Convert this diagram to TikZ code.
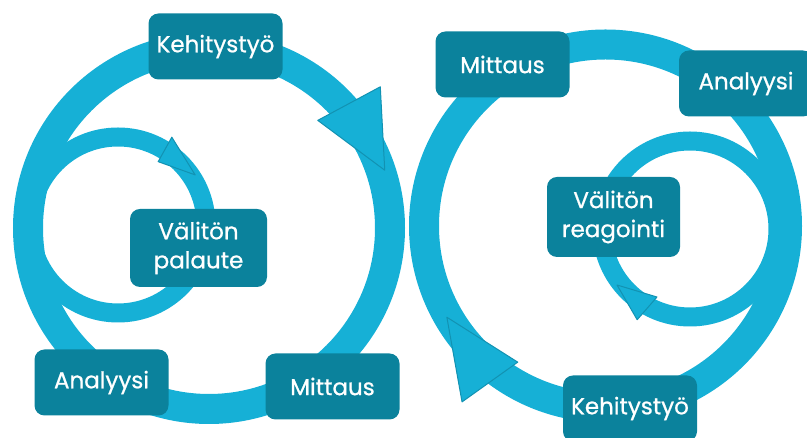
\documentclass[tikz,border=0pt]{standalone}
\usepackage{fontspec}
\newfontfamily\boxfont{Poppins}[FakeBold=0.8]
\usetikzlibrary{calc}
\definecolor{ringcyan}{RGB}{22,176,214}
\definecolor{headedge}{RGB}{18,146,178}
\definecolor{boxteal}{RGB}{11,130,156}
\begin{document}
\begin{tikzpicture}[x=1pt,y=1pt,
    bigring/.style={draw=ringcyan, line width=30pt},
    smallring/.style={draw=ringcyan, line width=19pt},
    head/.style={fill=ringcyan, draw=headedge, line width=1pt, line join=round},
    box/.style={fill=boxteal, rounded corners=10pt, text=white, align=center,
        minimum width=134pt, minimum height=66pt, inner sep=0pt,
        font=\boxfont\fontsize{23}{29}\selectfont}]
    \useasboundingbox (0,0) rectangle (807,438);

    % Centres of the loops
    \coordinate (bigL) at (209,210);
    \coordinate (smallL) at (118,213);
    \coordinate (bigR) at (605.5,212);
    \coordinate (smallR) at (690,209);

    % Draw the loops
    \draw[bigring] (bigL) circle (181);
    \draw[smallring] (smallL) circle (88);
    \draw[bigring] (bigR) circle (181.5);
    \draw[smallring] (smallR) circle (88);

    % Arrowheads, all clockwise
    \filldraw[head] ($(bigL)+(18.2:185)$) -- ($(bigL)+(44.7:153)$) -- ($(bigL)+(39.5:222)$) -- cycle;
    \filldraw[head] ($(smallL)+(33:92)$) -- ($(smallL)+(57.6:75)$) -- ($(smallL)+(58.5:103)$) -- cycle;
    \filldraw[head] ($(bigR)+(209.9:183)$) -- ($(bigR)+(237.2:162)$) -- ($(bigR)+(230.8:227)$) -- cycle;
    \filldraw[head] ($(smallR)+(217.5:92)$) -- ($(smallR)+(244.1:75.6)$) -- ($(smallR)+(239.8:105)$) -- cycle;

    % Left cycle
    \node[box] (kehL) at (215.5,391.5) {Kehitystyö};
    \node[box] (anaL) at (101.5,55.5) {Analyysi};
    \node[box] (mitL) at (332.5,51.5) {Mittaus};
    \node[box, minimum width=137pt, minimum height=78pt] (palaute) at (198.5,190) {Välitön\\palaute};

    % Right cycle
    \node[box] (mitR) at (502.5,373.5) {Mittaus};
    \node[box] (anaR) at (746,354.5) {Analyysi};
    \node[box, minimum width=133pt, minimum height=80pt] (reag) at (613.5,221) {Välitön\\reagointi};
    \node[box] (kehR) at (630,29.5) {Kehitystyö};
\end{tikzpicture}
\end{document}
